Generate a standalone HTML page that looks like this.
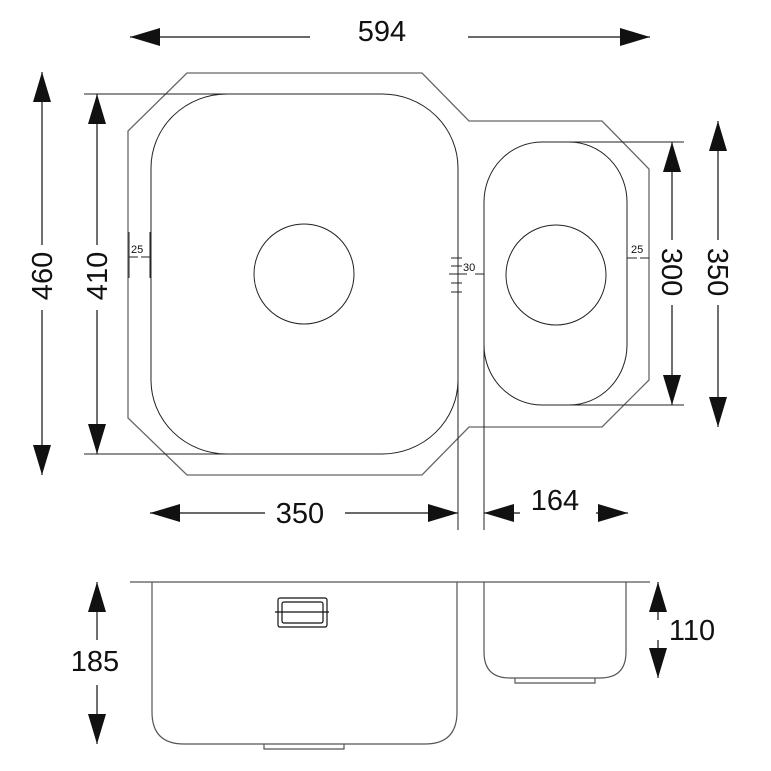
<!DOCTYPE html>
<html><head><style>html,body{margin:0;padding:0;background:#fff}svg{display:block}text{font-family:"Liberation Sans",Arial,sans-serif;fill:#111}</style></head>
<body>
<svg width="771" height="771" viewBox="0 0 771 771" xmlns="http://www.w3.org/2000/svg">
<defs>
<marker id="b" viewBox="0 0 10 10" refX="10" refY="5" markerWidth="30" markerHeight="18" markerUnits="userSpaceOnUse" orient="auto-start-reverse" preserveAspectRatio="none"><path d="M0,0 L10,5 L0,10 z" fill="#111"/></marker>
</defs>
<g fill="none" stroke="#666" stroke-width="1.3">
<path d="M187,73 L422,73 L469,121 L602,121 L649,169 L649,380 L602,427 L469,427 L422,475 L187,475 L128,418 L128,131 Z"/>
</g>
<g fill="none" stroke="#222" stroke-width="1">
<rect x="151" y="94" width="307" height="360" rx="76" ry="74"/>
<circle cx="304" cy="274" r="50"/>
<rect x="484" y="142" width="143" height="263" rx="58" ry="60"/>
<circle cx="556" cy="275" r="50"/>
<line x1="84" y1="94" x2="228" y2="94"/>
<line x1="84" y1="454" x2="228" y2="454"/>
<line x1="543" y1="142" x2="684" y2="142"/>
<line x1="543" y1="405" x2="684" y2="405"/>
<line x1="458" y1="380" x2="458" y2="530"/>
<line x1="484" y1="340" x2="484" y2="530"/>
<line x1="129" y1="232" x2="129" y2="278"/><line x1="150" y1="232" x2="150" y2="278"/>
<line x1="129" y1="257" x2="138" y2="257"/><line x1="141" y1="257" x2="150" y2="257"/>
<line x1="451" y1="258" x2="462" y2="258"/><line x1="451" y1="266" x2="462" y2="266"/><line x1="449" y1="274" x2="467" y2="274"/><line x1="451" y1="283" x2="462" y2="283"/><line x1="451" y1="292" x2="462" y2="292"/>
<line x1="475" y1="274" x2="484" y2="274"/>
<line x1="627" y1="258" x2="637" y2="258"/><line x1="640" y1="258" x2="649" y2="258"/>
</g>
<text x="131" y="253" font-size="11">25</text>
<text x="463" y="271" font-size="11">30</text>
<text x="631" y="253" font-size="11">25</text>
<g stroke="#111" stroke-width="1.2" fill="none">
<line x1="130" y1="37" x2="310" y2="37" marker-start="url(#b)"/>
<line x1="468" y1="37" x2="650" y2="37" marker-end="url(#b)"/>
<line x1="42" y1="72" x2="42" y2="245" marker-start="url(#b)"/>
<line x1="42" y1="310" x2="42" y2="475" marker-end="url(#b)"/>
<line x1="97" y1="94" x2="97" y2="245" marker-start="url(#b)"/>
<line x1="97" y1="310" x2="97" y2="454" marker-end="url(#b)"/>
<line x1="672" y1="142" x2="672" y2="240" marker-start="url(#b)"/>
<line x1="672" y1="305" x2="672" y2="405" marker-end="url(#b)"/>
<line x1="718" y1="121" x2="718" y2="240" marker-start="url(#b)"/>
<line x1="718" y1="305" x2="718" y2="427" marker-end="url(#b)"/>
<line x1="150" y1="513" x2="265" y2="513" marker-start="url(#b)"/>
<line x1="345" y1="513" x2="458" y2="513" marker-end="url(#b)"/>
<line x1="484" y1="513" x2="520" y2="513" marker-start="url(#b)"/>
<line x1="596" y1="513" x2="628" y2="513" marker-end="url(#b)"/>
<line x1="97" y1="582" x2="97" y2="640" marker-start="url(#b)"/>
<line x1="97" y1="685" x2="97" y2="744" marker-end="url(#b)"/>
<line x1="658" y1="582" x2="658" y2="620" marker-start="url(#b)"/>
<line x1="658" y1="640" x2="658" y2="678" marker-end="url(#b)"/>
</g>
<g font-size="29">
<text x="382" y="41" text-anchor="middle">594</text>
<text x="300" y="523" text-anchor="middle">350</text>
<text x="555" y="510" text-anchor="middle">164</text>
<text x="95" y="671" text-anchor="middle">185</text>
<text x="692" y="640" text-anchor="middle">110</text>
<text transform="translate(52,276) rotate(-90)" text-anchor="middle">460</text>
<text transform="translate(107,276) rotate(-90)" text-anchor="middle">410</text>
<text transform="translate(662,272) rotate(90)" text-anchor="middle">300</text>
<text transform="translate(708,272) rotate(90)" text-anchor="middle">350</text>
</g>
<g fill="none" stroke="#555" stroke-width="1.2">
<line x1="130" y1="582" x2="650" y2="582"/>
<path d="M152,582 V712 Q152,744 184,744 H425 Q457,744 457,712 V582"/>
<path d="M264,744 V749 H344 V744"/>
<path d="M484,582 V652 Q484,678 510,678 H600 Q626,678 626,652 V582"/>
<path d="M515,678 V683 H595 V678"/>
</g>
<g fill="none" stroke="#111" stroke-width="1.2">
<rect x="278" y="598" width="49" height="29" rx="2"/>
<rect x="282" y="602" width="41" height="21" rx="2"/>
<line x1="275" y1="612" x2="329" y2="612"/>
</g>
</svg>
</body></html>
